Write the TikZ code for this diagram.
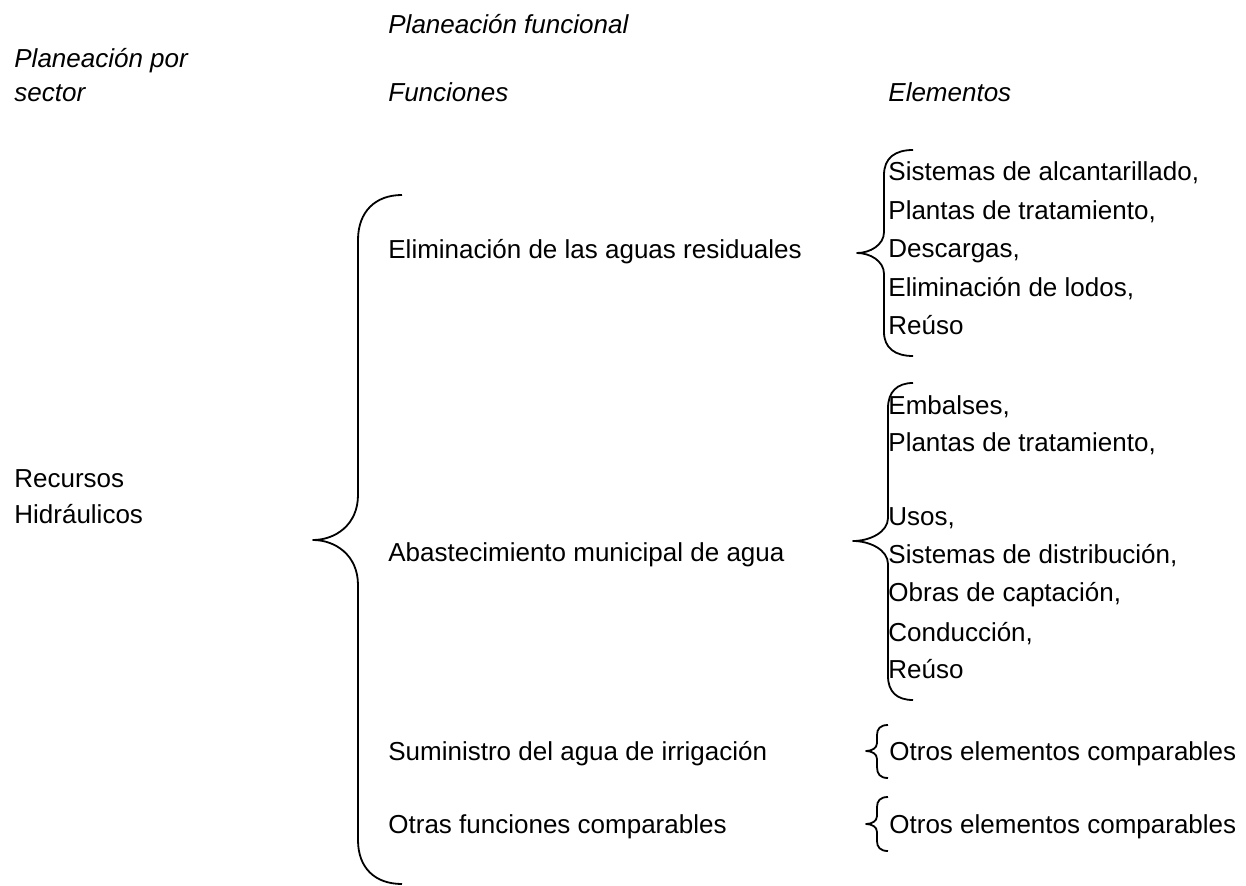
\documentclass[tikz,border=0pt]{standalone}
\usepackage{fontspec}
\setmainfont{Liberation Sans}
\usepackage{xcolor}
\usetikzlibrary{positioning}

\tikzset{
    txt/.style={anchor=base west, inner sep=0pt, font=\fontsize{13}{15}\selectfont},
    head/.style={txt, font=\fontsize{13}{15}\selectfont\itshape},
    brace line/.style={line width=0.9pt, line join=round}
}

\begin{document}
\begin{tikzpicture}[x=0.5pt, y=-0.5pt]
    \useasboundingbox (0,0) rectangle (1246,886);

    % Headers
    \node[head] (plan-func) at (388,34) {Planeación funcional};
    \node[head] (plan-sector) at (14,68) {Planeación por};
    \node[head] (sector) at (14,102) {sector};
    \node[head] (funciones) at (388,102) {Funciones};
    \node[head] (elementos) at (888,102) {Elementos};

    % Sector
    \node[txt] (recursos) at (14,488) {Recursos};
    \node[txt] (hidraulicos) at (14,524) {Hidráulicos};

    % Functions
    \node[txt] (f-elim) at (388,259) {Eliminación de las aguas residuales};
    \node[txt] (f-abast) at (388,562) {Abastecimiento municipal de agua};
    \node[txt] (f-irrig) at (388,760) {Suministro del agua de irrigación};
    \node[txt] (f-otras) at (388,833) {Otras funciones comparables};

    % Elements of the first function
    \node[txt] (e-alcant) at (888,181) {Sistemas de alcantarillado,};
    \node[txt] (e-plant1) at (888,220) {Plantas de tratamiento,};
    \node[txt] (e-desc) at (888,258) {Descargas,};
    \node[txt] (e-lodos) at (888,297) {Eliminación de lodos,};
    \node[txt] (e-reuso1) at (888,335) {Reúso};

    % Elements of the second function
    \node[txt] (e-embal) at (888,415) {Embalses,};
    \node[txt] (e-plant2) at (888,452) {Plantas de tratamiento,};
    \node[txt] (e-usos) at (888,526) {Usos,};
    \node[txt] (e-distr) at (888,564) {Sistemas de distribución,};
    \node[txt] (e-capt) at (888,602) {Obras de captación,};
    \node[txt] (e-cond) at (888,641) {Conducción,};
    \node[txt] (e-reuso2) at (888,678) {Reúso};

    % Other elements
    \node[txt] (e-otros1) at (889,760) {Otros elementos comparables};
    \node[txt] (e-otros2) at (889,833) {Otros elementos comparables};

    % Big brace
    \draw[brace line] (402,195) .. controls (375,195) and (358,212) .. (358,240)
        -- (358,495) .. controls (358,525) and (335,540) .. (313,540)
        .. controls (335,540) and (358,555) .. (358,585)
        -- (358,840) .. controls (358,868) and (375,884) .. (402,884);

    % Brace of the first function
    \draw[brace line] (913,150) .. controls (895,150) and (884,158) .. (884,175)
        -- (884,232) .. controls (884,245) and (870,253) .. (857,253)
        .. controls (870,253) and (884,261) .. (884,274)
        -- (884,332) .. controls (884,348) and (895,356) .. (913,356);

    % Brace of the second function
    \draw[brace line] (913,383) .. controls (897,383) and (888,392) .. (888,408)
        -- (888,518) .. controls (888,532) and (870,541) .. (853,541)
        .. controls (870,541) and (888,550) .. (888,564)
        -- (888,676) .. controls (888,692) and (897,700) .. (913,700);

    % Small braces
    \draw[brace line] (888,725) .. controls (880,725) and (877,729) .. (877,735)
        -- (877,743) .. controls (877,748) and (872,751) .. (866,751)
        .. controls (872,751) and (877,754) .. (877,759)
        -- (877,767) .. controls (877,774) and (880,778) .. (888,778);
    \draw[brace line] (888,797) .. controls (880,797) and (877,801) .. (877,807)
        -- (877,816) .. controls (877,821) and (872,824) .. (866,824)
        .. controls (872,824) and (877,827) .. (877,832)
        -- (877,841) .. controls (877,847) and (880,851) .. (888,851);
\end{tikzpicture}
\end{document}
